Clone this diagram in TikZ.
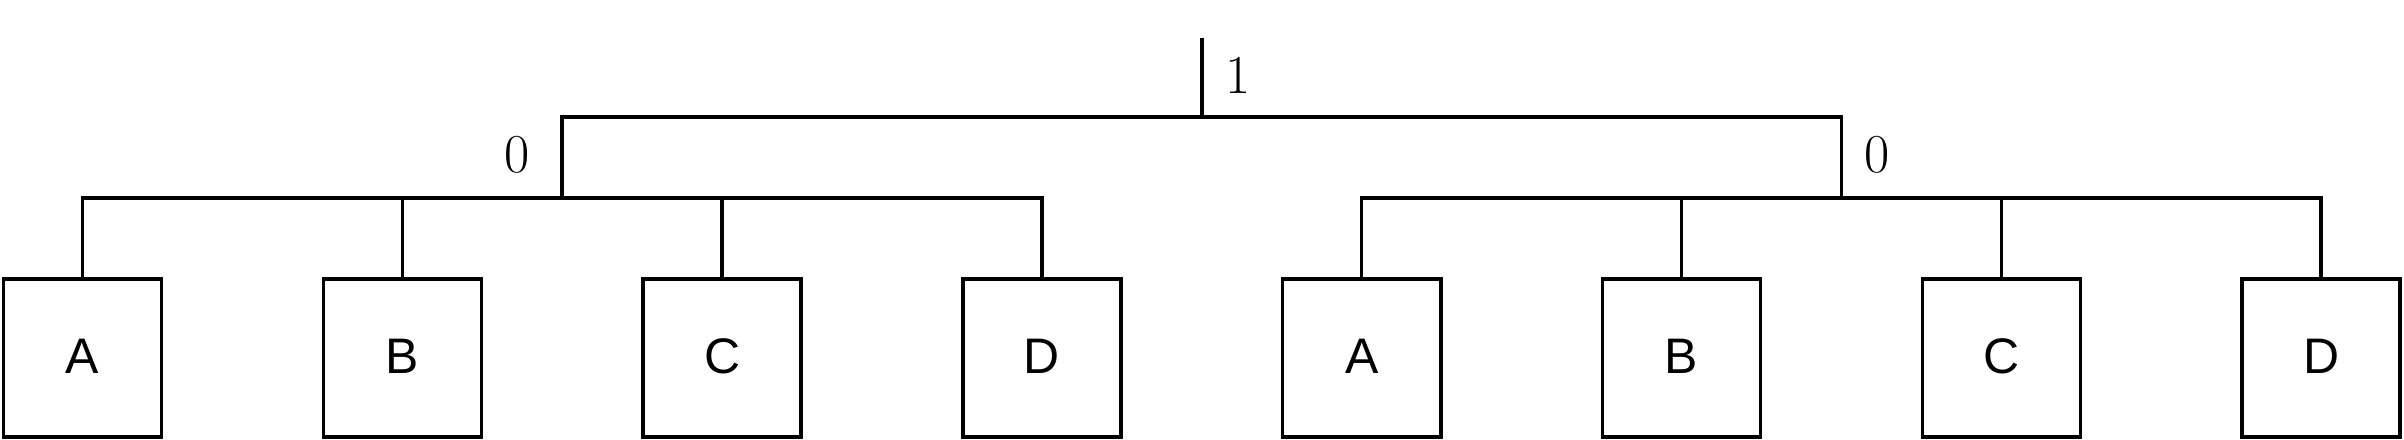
\documentclass[tikz,border=0pt]{standalone}
\usepackage{fontspec}
\setsansfont{Liberation Sans}
\begin{document}
\begin{tikzpicture}[x=0.01cm, y=-0.01cm, line width=1pt]
\useasboundingbox (0,0) rectangle (2404,440);
\tikzset{leafbox/.style={rectangle, draw, minimum size=1.58cm, inner sep=0pt, font=\sffamily\fontsize{14.2}{17}\selectfont},
  weight/.style={font=\fontsize{15.6}{18}\selectfont, inner sep=0pt}}
\foreach \x/\t in {0/A, 1/B, 2/C, 3/D, 4/A, 5/B, 6/C, 7/D} {
  \node[leafbox] (leaf \x) at (82.5+319.8*\x, 357.8) {\raisebox{1pt}{\t}};
}
\coordinate (left join) at (562, 198);
\coordinate (right join) at (1841.5, 198);
\coordinate (root join) at (1201.8, 117);
\coordinate (root top) at (1201.8, 38);

\foreach \y in {0, ..., 3}
  \draw (leaf \y.north) |- (left join);
\foreach \y in {4, ..., 7}
  \draw (leaf \y.north) |- (right join);
\draw (left join) |- (root join) -| (right join);
\draw (root join) -- (root top);

\node[weight] (root weight) at (1238, 75) {1};
\node[weight] (left weight) at (517, 155) {0};
\node[weight] (right weight) at (1877, 155) {0};
\end{tikzpicture}
\end{document}
